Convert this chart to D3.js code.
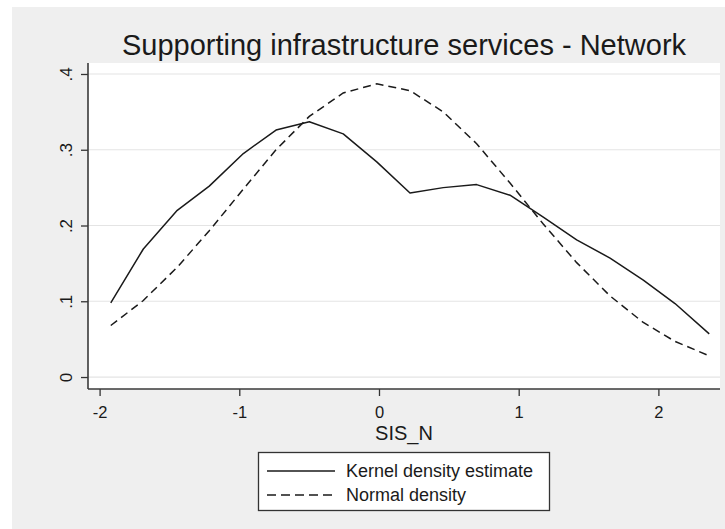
<!DOCTYPE html>
<html>
<head>
<meta charset="utf-8">
<script src="https://cdn.jsdelivr.net/npm/d3@7"></script>
<style>
  html, body { margin: 0; padding: 0; background: #ffffff; }
  svg { display: block; font-family: "Liberation Sans", Arial, sans-serif; }
</style>
</head>
<body>
<svg id="chart" width="725" height="529"></svg>
<script>
// Evaluation grid for SIS_N and the two density curves
const gridX = [-1.920, -1.687, -1.444, -1.215, -0.971, -0.737, -0.499, -0.256, -0.016,
               0.222, 0.460, 0.699, 0.938, 1.176, 1.415, 1.654, 1.892, 2.119, 2.364];
const kernelDensity = [0.098, 0.169, 0.220, 0.252, 0.295, 0.326, 0.337, 0.321, 0.284,
                       0.243, 0.250, 0.254, 0.240, 0.211, 0.181, 0.157, 0.128, 0.097, 0.057];
const normalDensity = [0.068, 0.101, 0.145, 0.193, 0.248, 0.300, 0.344, 0.375, 0.387,
                       0.378, 0.350, 0.308, 0.256, 0.202, 0.151, 0.107, 0.072, 0.047, 0.028];

const xTicks = [-2, -1, 0, 1, 2];
const xTickLabels = ["-2", "-1", "0", "1", "2"];
const yTicks = [0, 0.1, 0.2, 0.3, 0.4];
const yTickLabels = ["0", ".1", ".2", ".3", ".4"];

const titleText = "Supporting infrastructure services - Network";
const xTitle = "SIS_N";
const legendLabels = ["Kernel density estimate", "Normal density"];

const svg = d3.select("#chart");
const W = 725, H = 529;
const plot = { left: 88, right: 720, top: 63, bottom: 389 };
const ink = "#1a1a1a";

// Graph region (light gray) with narrow white margin top/left
svg.append("rect").attr("x", 12).attr("y", 7).attr("width", W - 12).attr("height", H - 7)
  .attr("fill", "#efefef");

// Plot region
svg.append("rect").attr("x", plot.left).attr("y", plot.top)
  .attr("width", plot.right - plot.left).attr("height", plot.bottom - plot.top)
  .attr("fill", "#ffffff");

const x = d3.scaleLinear().domain([-2.083, 2.441]).range([plot.left, plot.right]);
const y = d3.scaleLinear().domain([-0.0158, 0.4145]).range([plot.bottom, plot.top]);

// Horizontal grid lines
svg.append("g").selectAll("line").data(yTicks).join("line")
  .attr("x1", plot.left).attr("x2", plot.right)
  .attr("y1", d => y(d)).attr("y2", d => y(d))
  .attr("stroke", "#e4e4e4").attr("stroke-width", 1.2);

// Axes
const xAxis = svg.append("g").attr("transform", `translate(0,${plot.bottom})`)
  .call(d3.axisBottom(x).tickValues(xTicks).tickSize(7)
    .tickFormat((d, i) => xTickLabels[i]).tickSizeOuter(0));
xAxis.select(".domain").remove();
xAxis.selectAll(".tick line").attr("stroke", "#333").attr("stroke-width", 1.3);
xAxis.selectAll(".tick text").attr("font-size", 16.5).attr("fill", ink)
  .attr("font-family", "Liberation Sans, Arial, sans-serif")
  .attr("dy", null).attr("y", 29);

const yAxis = svg.append("g").attr("transform", `translate(${plot.left},0)`)
  .call(d3.axisLeft(y).tickValues(yTicks).tickSize(7)
    .tickFormat((d, i) => yTickLabels[i]).tickSizeOuter(0));
yAxis.select(".domain").remove();
yAxis.selectAll(".tick line").attr("stroke", "#333").attr("stroke-width", 1.3);
yAxis.selectAll(".tick text")
  .attr("font-size", 17).attr("fill", ink)
  .attr("font-family", "Liberation Sans, Arial, sans-serif")
  .attr("x", null).attr("dy", null)
  .attr("text-anchor", "middle")
  .attr("transform", "translate(-16,0) rotate(-90)");

// Axis lines
svg.append("line").attr("x1", plot.left).attr("x2", plot.left)
  .attr("y1", plot.top).attr("y2", plot.bottom)
  .attr("stroke", "#3a3a3a").attr("stroke-width", 1.6);
svg.append("line").attr("x1", plot.left).attr("x2", plot.right)
  .attr("y1", plot.bottom).attr("y2", plot.bottom)
  .attr("stroke", "#3a3a3a").attr("stroke-width", 1.6);

// Density curves
const kdePts = gridX.map((v, i) => [v, kernelDensity[i]]);
const normPts = gridX.map((v, i) => [v, normalDensity[i]]);
const line = d3.line().x(d => x(d[0])).y(d => y(d[1]));

svg.append("path").datum(kdePts).attr("d", line)
  .attr("fill", "none").attr("stroke", ink).attr("stroke-width", 1.5)
  .attr("stroke-linejoin", "round");
svg.append("path").datum(normPts).attr("d", line)
  .attr("fill", "none").attr("stroke", ink).attr("stroke-width", 1.5)
  .attr("stroke-dasharray", "8,5");

// Title
svg.append("text").attr("x", (plot.left + plot.right) / 2).attr("y", 55)
  .attr("text-anchor", "middle").attr("font-size", 29).attr("fill", ink)
  .text(titleText);

// X axis title
svg.append("text").attr("x", (plot.left + plot.right) / 2).attr("y", 440)
  .attr("text-anchor", "middle").attr("font-size", 20).attr("fill", ink)
  .text(xTitle);

// Legend
const lg = svg.append("g");
lg.append("rect").attr("x", 258.5).attr("y", 452.5).attr("width", 291).attr("height", 58)
  .attr("fill", "#ffffff").attr("stroke", "#333").attr("stroke-width", 1.3);
const rows = [471, 495];
legendLabels.forEach((lab, i) => {
  lg.append("line").attr("x1", 267).attr("x2", 335).attr("y1", rows[i]).attr("y2", rows[i])
    .attr("stroke", ink).attr("stroke-width", 1.5)
    .attr("stroke-dasharray", i === 1 ? "9,5" : null);
  lg.append("text").attr("x", 346).attr("y", rows[i]).attr("dy", "0.35em")
    .attr("font-size", 18).attr("fill", ink).text(lab);
});
</script>
</body>
</html>
